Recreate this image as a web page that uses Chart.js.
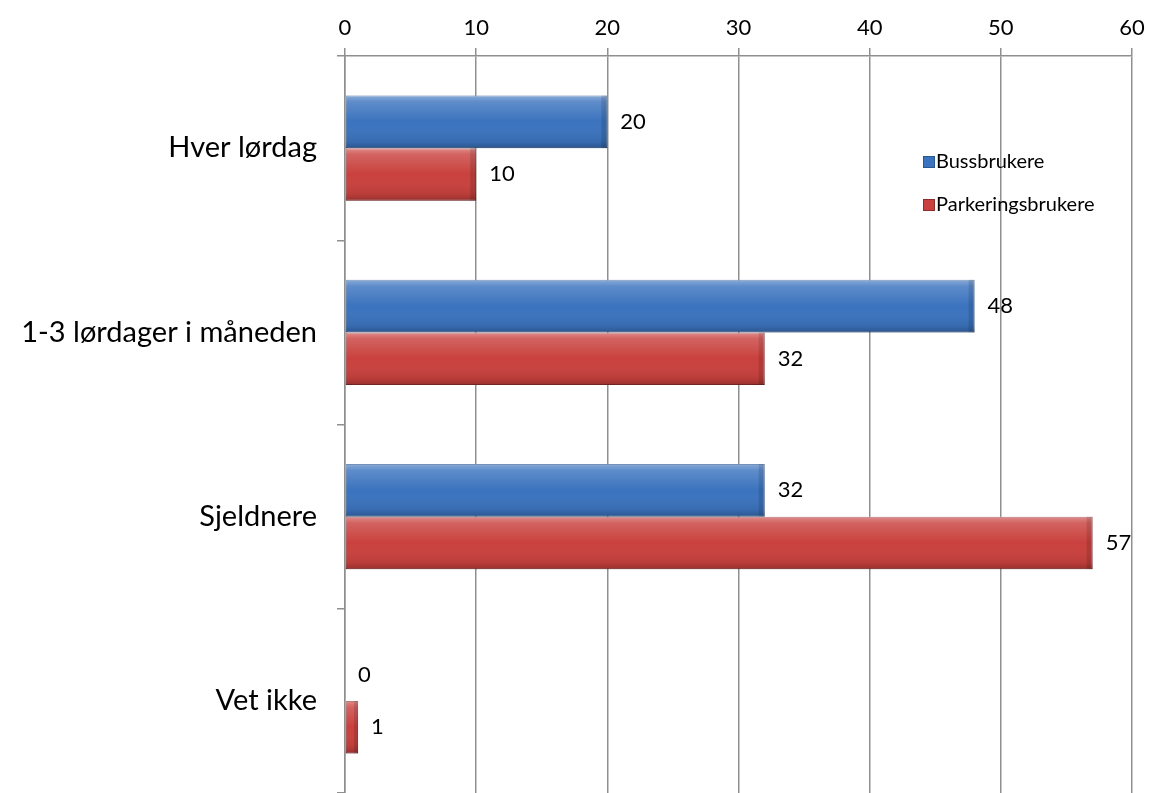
<!DOCTYPE html>
<html>
<head>
<meta charset="utf-8">
<script src="https://cdn.jsdelivr.net/npm/chart.js@4"></script>
<style>
  html, body { margin: 0; padding: 0; background: #fff; }
  #wrap { width: 1149px; height: 793px; }
</style>
</head>
<body>
<div id="wrap"><canvas id="chart" width="1149" height="793"></canvas></div>
<script>
// kategorier og verdier lest av bildet
const categories = ['Hver lørdag', '1-3 lørdager i måneden', 'Sjeldnere', 'Vet ikke'];
const bussbrukere = [20, 48, 32, 0];
const parkeringsbrukere = [10, 32, 57, 1];
const xTicks = [0, 10, 20, 30, 40, 50, 60];

const FONT = 'Lato, "Open Sans", sans-serif';

// verdier ved enden av hver stolpe
const valueLabels = {
  id: 'valueLabels',
  afterDatasetsDraw(chart) {
    const ctx = chart.ctx;
    ctx.save();
    ctx.font = '22px ' + FONT;
    ctx.fillStyle = '#000';
    ctx.textBaseline = 'middle';
    chart.data.datasets.forEach((ds, i) => {
      chart.getDatasetMeta(i).data.forEach((bar, j) => {
        ctx.fillText(ds.data[j], bar.x + 13, bar.y);
      });
    });
    ctx.restore();
  }
};

// enkel "bevel" over stolpene
const bevel = {
  id: 'bevel',
  afterDatasetsDraw(chart) {
    const ctx = chart.ctx;
    ctx.save();
    chart.data.datasets.forEach((ds, i) => {
      chart.getDatasetMeta(i).data.forEach(bar => {
        const x0 = bar.base, x1 = bar.x;
        const w = x1 - x0;
        if (w <= 0) return;
        const top = bar.y - bar.height / 2, h = bar.height;
        const g = ctx.createLinearGradient(0, top, 0, top + h);
        g.addColorStop(0, 'rgba(255,255,255,0.4)');
        g.addColorStop(0.12, 'rgba(255,255,255,0.18)');
        g.addColorStop(0.5, 'rgba(255,255,255,0)');
        g.addColorStop(0.88, 'rgba(0,0,0,0.08)');
        g.addColorStop(1, 'rgba(0,0,0,0.25)');
        ctx.fillStyle = g;
        ctx.fillRect(x0, top, w, h);
        // høyre kant litt mørkere
        const e = Math.min(6, w / 3);
        ctx.fillStyle = 'rgba(0,0,0,0.12)';
        ctx.fillRect(x1 - e, top, e, h);
      });
    });
    ctx.restore();
  }
};

// forklaring inne i plottet
const innerLegend = {
  id: 'innerLegend',
  afterDraw(chart) {
    const ctx = chart.ctx;
    const a = chart.chartArea;
    ctx.save();
    ctx.font = '20px ' + FONT;
    ctx.textBaseline = 'middle';
    chart.data.datasets.forEach((ds, i) => {
      const x = a.right - 209;
      const y = a.top + 106 + i * 43;
      ctx.fillStyle = ds.backgroundColor;
      ctx.fillRect(x, y - 6, 12, 12);
      ctx.strokeStyle = ds.borderColor;
      ctx.lineWidth = 1;
      ctx.strokeRect(x + 0.5, y - 5.5, 11, 11);
      ctx.fillStyle = '#000';
      ctx.fillText(ds.label, x + 13, y);
    });
    ctx.restore();
  }
};

new Chart(document.getElementById('chart'), {
  type: 'bar',
  data: {
    labels: categories,
    datasets: [
      {
        label: 'Bussbrukere',
        data: bussbrukere,
        backgroundColor: '#3b73be',
        borderColor: '#2b5690',
        borderWidth: 1,
        borderSkipped: false
      },
      {
        label: 'Parkeringsbrukere',
        data: parkeringsbrukere,
        backgroundColor: '#c9413e',
        borderColor: '#8e2d2b',
        borderWidth: 1,
        borderSkipped: false
      }
    ]
  },
  options: {
    indexAxis: 'y',
    responsive: false,
    animation: false,
    categoryPercentage: 0.57,
    barPercentage: 1,
    layout: { padding: { top: 0, right: 17, bottom: 0, left: 0 } },
    plugins: {
      legend: { display: false },
      tooltip: { enabled: false }
    },
    scales: {
      x: {
        position: 'top',
        min: 0,
        max: 60,
        afterBuildTicks(axis) {
          axis.ticks = xTicks.map(v => ({ value: v }));
        },
        afterFit(axis) {
          axis.height = 56;
          axis.paddingLeft = 0;
          axis.paddingRight = 0;
        },
        grid: {
          color: '#8f8f8f',
          lineWidth: 1.5,
          tickLength: 8,
          tickColor: '#8f8f8f'
        },
        border: { color: '#8f8f8f', width: 1.5 },
        ticks: {
          color: '#000',
          font: { family: FONT, size: 22 },
          padding: 7
        }
      },
      y: {
        afterFit(axis) {
          axis.width = 345;
          axis.paddingTop = 0;
          axis.paddingBottom = 0;
        },
        grid: {
          offset: true,
          drawOnChartArea: false,
          tickLength: 8,
          color: '#8f8f8f',
          lineWidth: 1.5
        },
        border: { color: '#8f8f8f', width: 1.5 },
        ticks: {
          color: '#000',
          font: { family: FONT, size: 29 },
          padding: 20
        }
      }
    }
  },
  plugins: [bevel, valueLabels, innerLegend]
});
</script>
</body>
</html>
